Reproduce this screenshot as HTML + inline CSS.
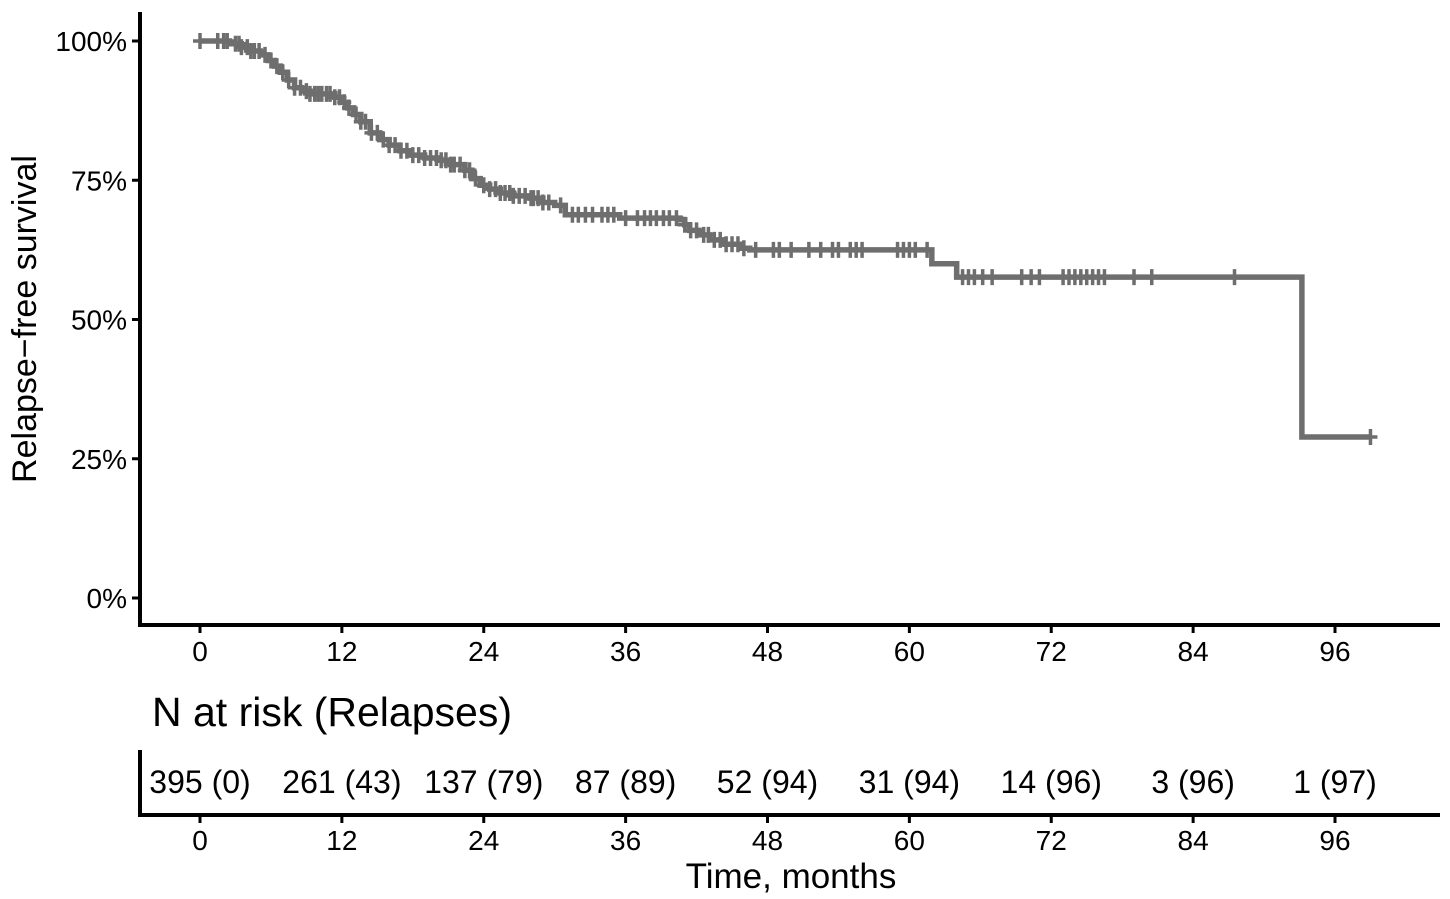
<!DOCTYPE html>
<html><head><meta charset="utf-8"><style>
body{margin:0;background:#fff}
svg{display:block;font-family:"Liberation Sans",Arial,sans-serif}
</style></head><body>
<svg id="c" width="1450" height="899"></svg>
<script>
const times=[0,2.5,3.5,4.3,5.1,5.8,6.3,6.8,7.4,8,8.6,9.3,11.4,12.0,12.5,13.0,13.6,14.4,15.2,16,16.9,17.8,19,20.3,21.2,22.4,23.0,23.7,24.5,25.4,26.5,27.9,29,30,30.9,35.5,40.6,41.0,41.4,42.2,43.1,44.4,45.7,46.5,61.9,64,93.2,99];
const surv=[100,99.5,98.9,98.2,97.5,96.5,95.5,94.4,93.0,91.6,91.0,90.5,89.9,89.0,88.0,86.8,85.5,83.5,82.3,81.3,80.3,79.5,79.0,78.6,77.8,76.8,75.3,74.1,73.4,72.7,72.2,71.8,71.0,70.5,68.8,68.2,67.9,67.0,66.0,65.2,64.3,63.5,62.8,62.5,60,57.6,28.9,28.9];
const censors=[0,1.5,2,2.3,3,3.3,3.5,4,4.3,4.6,5,5.5,6,6.5,7,7.5,8,8.5,9,9.3,9.7,10,10.3,10.7,11,11.4,11.8,12.2,12.6,13.2,13.6,14,14.5,15,15.5,16,16.5,17,17.5,18,18.5,19,19.5,20,20.4,20.8,21.2,21.5,22,22.4,22.8,23.3,24,24.5,25,25.4,25.8,26.2,26.5,27,27.5,28,28.2,28.6,29,29.5,30.5,31.5,32,32.6,33.2,34,34.5,35,36,37,37.6,38.1,38.6,39.2,39.7,40.3,41,41.5,42,42.6,43,43.5,44,44.5,45,45.5,46,47,48.5,49,50,51.5,52.5,53.5,54,55,55.5,56,59,59.5,60,60.5,61.5,64.5,65,65.5,66.2,67,69.5,70.3,71,73,73.5,74,74.5,75,75.5,76,76.5,79,80.5,87.5,99];
const xTicks=[0,12,24,36,48,60,72,84,96];
const yTicks=[0,25,50,75,100];
const risk=["395 (0)","261 (43)","137 (79)","87 (89)","52 (94)","31 (94)","14 (96)","3 (96)","1 (97)"];
const svg=document.getElementById('c');const NS='http://www.w3.org/2000/svg';
const X=t=>200+t*(1135/96), Y=p=>598-p*(557/100);
function el(tag,a,txt){const e=document.createElementNS(NS,tag);for(const k in a)e.setAttribute(k,a[k]);if(txt!=null)e.textContent=txt;svg.appendChild(e);return e;}
function S(t){let s=surv[0];for(let i=0;i<times.length;i++){if(times[i]<=t)s=surv[i];}return s;}
let e=el('line',{x1:140,y1:12,x2:140,y2:627,stroke:'#000','stroke-width':4});

e=el('line',{x1:138,y1:625,x2:1440,y2:625,stroke:'#000','stroke-width':4});

yTicks.forEach(v=>{
 el('line',{x1:132,y1:Y(v),x2:140,y2:Y(v),stroke:'#000','stroke-width':3});
 e=el('text',{x:127,y:Y(v)+10,'text-anchor':'end','font-size':28},v+'%');
 
});
xTicks.forEach((v,i)=>{
 el('line',{x1:X(v),y1:625,x2:X(v),y2:633,stroke:'#000','stroke-width':3});
 e=el('text',{x:X(v),y:661,'text-anchor':'middle','font-size':28},v);
 
 el('line',{x1:X(v),y1:815,x2:X(v),y2:823,stroke:'#000','stroke-width':3});
 e=el('text',{x:X(v),y:850,'text-anchor':'middle','font-size':28},v);
 
 e=el('text',{x:X(v),y:793,'text-anchor':'middle','font-size':32},risk[i]);
 
});
e=el('text',{x:0,y:0,'text-anchor':'middle','font-size':34,transform:'translate(36,319) rotate(-90)'},'Relapse\u2212free survival');

let d='M'+X(times[0])+','+Y(surv[0]);
for(let i=1;i<times.length;i++){d+=' H'+X(times[i])+' V'+Y(surv[i]);}
e=el('path',{d:d,fill:'none',stroke:'#6e6e6e','stroke-width':5.5});

censors.forEach(t=>{const x=X(t),y=Y(S(t));
 e=el('path',{d:`M${x-7},${y}H${x+7}M${x},${y-8}V${y+8}`,stroke:'#6e6e6e','stroke-width':3.5});
 
});
e=el('text',{x:152,y:726,'font-size':41},'N at risk (Relapses)');

e=el('line',{x1:140,y1:750,x2:140,y2:817,stroke:'#000','stroke-width':4});

e=el('line',{x1:138,y1:815,x2:1440,y2:815,stroke:'#000','stroke-width':4});

e=el('text',{x:791,y:888,'text-anchor':'middle','font-size':35},'Time, months');

</script>
</body></html>
